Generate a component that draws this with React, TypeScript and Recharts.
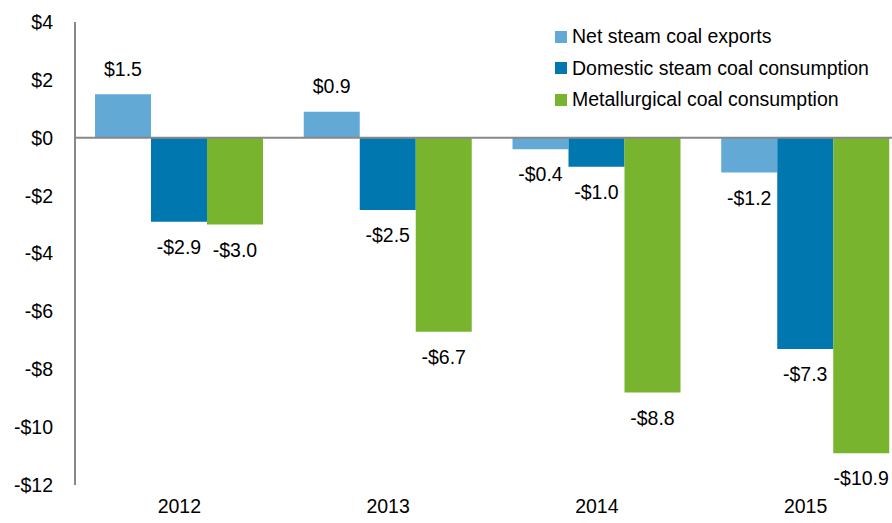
import React from "react";
import {
  BarChart,
  Bar,
  XAxis,
  YAxis,
  ReferenceLine,
  LabelList,
} from "recharts";

const years = ["2012", "2013", "2014", "2015"];
const netExports = [1.5, 0.9, -0.4, -1.2];
const domesticSteam = [-2.9, -2.5, -1.0, -7.3];
const metallurgical = [-3.0, -6.7, -8.8, -10.9];
const yTicks = [-12, -10, -8, -6, -4, -2, 0, 2, 4];

const series = [
  { key: "net", name: "Net steam coal exports", color: "#63A9D6" },
  { key: "domestic", name: "Domestic steam coal consumption", color: "#0077AE" },
  { key: "met", name: "Metallurgical coal consumption", color: "#79B42F" },
];

const data = years.map((year, i) => ({
  year,
  net: netExports[i],
  domestic: domesticSteam[i],
  met: metallurgical[i],
}));

const FONT = "'Liberation Sans', Arial, sans-serif";
const FS = 19.5;

const fmt = (v: number) => (v < 0 ? `-$${Math.abs(v).toFixed(1)}` : `$${v.toFixed(1)}`);
const fmtTick = (v: number) => (v < 0 ? `-$${Math.abs(v)}` : `$${v}`);

function ValueLabel(props: any) {
  const { x, y, width, height, value } = props;
  const top = Math.min(y, y + height);
  const bottom = Math.max(y, y + height);
  const ty = value >= 0 ? top - 24 : bottom + 27;
  return (
    <text
      x={x + width / 2}
      y={ty}
      textAnchor="middle"
      dominantBaseline="middle"
      fontSize={FS}
      fontFamily={FONT}
      fill="#000"
    >
      {fmt(value)}
    </text>
  );
}

function LegendBox() {
  return (
    <div
      style={{
        position: "absolute",
        left: 555,
        top: 21,
        fontFamily: FONT,
        fontSize: FS,
        color: "#000",
        whiteSpace: "nowrap",
      }}
    >
      {series.map((s) => (
        <div key={s.key} style={{ display: "flex", alignItems: "center", height: 31.5 }}>
          <span
            style={{
              width: 12,
              height: 12,
              background: s.color,
              display: "inline-block",
              marginRight: 5,
            }}
          />
          <span>{s.name}</span>
        </div>
      ))}
    </div>
  );
}

export default function App() {
  // the original chart is cropped on the right, so draw it a bit wider and clip
  return (
    <div
      style={{
        position: "absolute",
        left: 0,
        top: 0,
        width: 892,
        height: 523,
        overflow: "hidden",
        background: "#fff",
      }}
    >
      <BarChart
        width={910}
        height={523}
        data={data}
        margin={{ top: 22, right: 0, bottom: 0, left: 0 }}
        barGap={0}
        barCategoryGap={20}
      >
        <XAxis
          dataKey="year"
          axisLine={false}
          tickLine={false}
          tickSize={0}
          tickMargin={14}
          height={38}
          tick={{ fontSize: FS, fontFamily: FONT, fill: "#000" }}
        />
        <YAxis
          domain={[-12, 4]}
          ticks={yTicks}
          interval={0}
          width={75}
          tickFormatter={fmtTick}
          axisLine={{ stroke: "#888", strokeWidth: 2 }}
          tickLine={false}
          tickSize={0}
          tickMargin={22}
          tick={{ fontSize: FS, fontFamily: FONT, fill: "#000" }}
        />
        {series.map((s) => (
          <Bar
            key={s.key}
            dataKey={s.key}
            name={s.name}
            fill={s.color}
            barSize={56}
            isAnimationActive={false}
          >
            <LabelList dataKey={s.key} content={ValueLabel} />
          </Bar>
        ))}
        <ReferenceLine y={0} stroke="#888" strokeWidth={2} />
      </BarChart>
      <LegendBox />
    </div>
  );
}
